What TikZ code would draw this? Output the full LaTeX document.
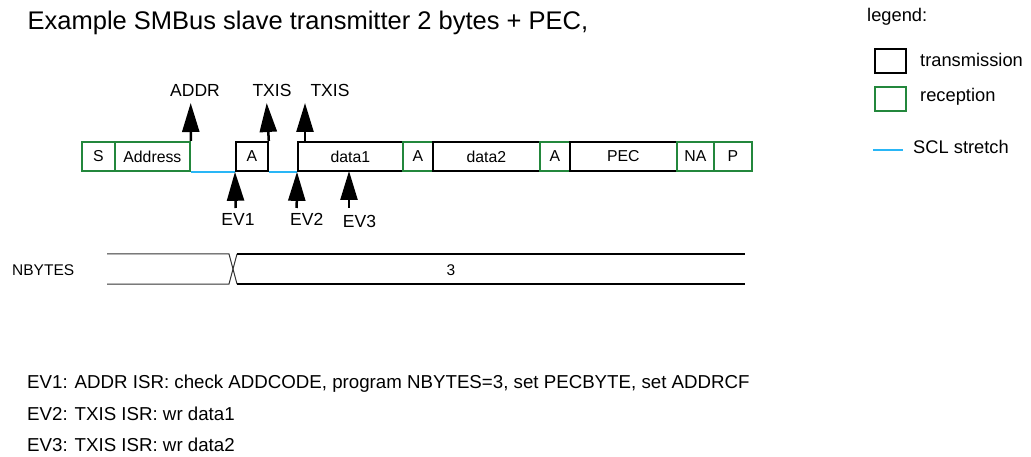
\documentclass[tikz,border=0pt]{standalone}
\usepackage{fontspec}
\setmainfont{Liberation Sans}
\usetikzlibrary{arrows.meta}
\definecolor{rxgreen}{RGB}{35,135,60}
\definecolor{sclblue}{RGB}{41,182,246}
\begin{document}
\begin{tikzpicture}[x=1pt,y=-1pt,
  frm/.style={line width=1.8pt, minimum height=29pt, inner sep=0pt, anchor=north west,
              font=\fontsize{15.8}{18}\selectfont},
  tx/.style={frm, draw=black},
  rx/.style={frm, draw=rxgreen},
  lbl/.style={anchor=base, inner sep=0pt, font=\fontsize{17.5}{20}\selectfont},
  txt/.style={anchor=base west, inner sep=0pt, font=\fontsize{18.7}{22}\selectfont},
  legtxt/.style={anchor=west, inner sep=0pt, font=\fontsize{18.3}{21}\selectfont},
  uparr/.style={line width=2.5pt, -{Triangle[width=17pt,length=29pt]}},
  stretch/.style={draw=sclblue, line width=2pt},
  legbox/.style={line width=1.8pt, minimum width=31pt, minimum height=24pt, inner sep=0pt, anchor=west}]
\useasboundingbox (0,0) rectangle (1031,457);
\fill[white] (0,0) rectangle (1031,457);

% title
\node[anchor=base west, inner sep=0pt, font=\fontsize{25.5}{30}\selectfont] (title) at (27.5,30)
  {Example SMBus slave transmitter 2 bytes + PEC,};

% frame
\node[rx, minimum width=33pt] (s) at (81,141) {S};
\node[rx, minimum width=75pt] (addr) at (114,141) {Address};
\node[tx, minimum width=32pt] (a1) at (235,141) {A};
\node[tx, minimum width=105pt] (d1) at (297,141) {data1};
\node[rx, minimum width=30pt] (a2) at (402,141) {A};
\node[tx, minimum width=107pt] (d2) at (432,141) {data2};
\node[rx, minimum width=30pt] (a3) at (539,141) {A};
\node[tx, minimum width=107pt] (pec) at (569,141) {PEC};
\node[rx, minimum width=37pt] (na) at (676,141) {NA};
\node[rx, minimum width=38pt] (p) at (713,141) {P};

% SCL stretch
\draw[stretch] (addr.south east) -- (a1.south west);
\draw[stretch] (a1.south east) -- (d1.south west);

% upward event arrows
\coordinate (addrtip) at (190.7,103);
\coordinate (txis1tip) at (266.7,103);
\coordinate (txis2tip) at (305,103);
\coordinate (txis2base) at (305,141);
\draw[uparr] (addr.north east) -- (addrtip);
\draw[uparr] (a1.north east) -- (txis1tip);
\draw[uparr] (txis2base) -- (txis2tip);
\node[lbl] (laddr) at (195,96.7) {ADDR};
\node[lbl] (ltxis1) at (272,96.7) {TXIS};
\node[lbl] (ltxis2) at (330,96.7) {TXIS};

% EV arrows
\coordinate (ev1b) at (235.7,208);
\coordinate (ev2b) at (296.7,208);
\coordinate (ev3b) at (349,208);
\coordinate (ev3t) at (349,171);
\draw[uparr] (ev1b) -- (a1.south west);
\draw[uparr] (ev2b) -- (d1.south west);
\draw[uparr] (ev3b) -- (ev3t);
\node[lbl] (lev1) at (238,226) {EV1};
\node[lbl] (lev2) at (306.7,226) {EV2};
\node[lbl] (lev3) at (359.5,227.7) {EV3};

% NBYTES bus
\node[anchor=west, inner sep=0pt, font=\fontsize{15.5}{18}\selectfont] (nb) at (12,270) {NBYTES};
\draw[line width=1pt, black!80] (107,254) -- (229,254) -- (237,284);
\draw[line width=1pt, black!80] (107,284) -- (229,284) -- (237,254);
\draw[line width=2.5pt] (237,254) -- (745,254);
\draw[line width=2.5pt] (237,284) -- (745,284);
\node[inner sep=0pt, font=\fontsize{15.5}{18}\selectfont] (nbv) at (451,270) {3};

% notes
\node[txt] (n1) at (27,388) {EV1: ADDR ISR: check ADDCODE, program NBYTES=3, set PECBYTE, set ADDRCF};
\node[txt] (n2) at (27,420) {EV2: TXIS ISR: wr data1};
\node[txt] (n3) at (27,451) {EV3: TXIS ISR: wr data2};

% legend
\node[anchor=base west, inner sep=0pt, font=\fontsize{18.3}{21}\selectfont] (leg) at (867,21.7) {legend:};
\node[legbox, draw=black] (lb1) at (874,61) {};
\node[legtxt] (lt1) at (920,60) {transmission};
\node[legbox, draw=rxgreen] (lb2) at (874,99) {};
\node[legtxt] (lt2) at (920,97) {reception};
\coordinate (ls1) at (873,150);
\coordinate (ls2) at (903,150);
\draw[stretch] (ls1) -- (ls2);
\node[legtxt] (lt3) at (913,147) {SCL stretch};
\end{tikzpicture}
\end{document}
